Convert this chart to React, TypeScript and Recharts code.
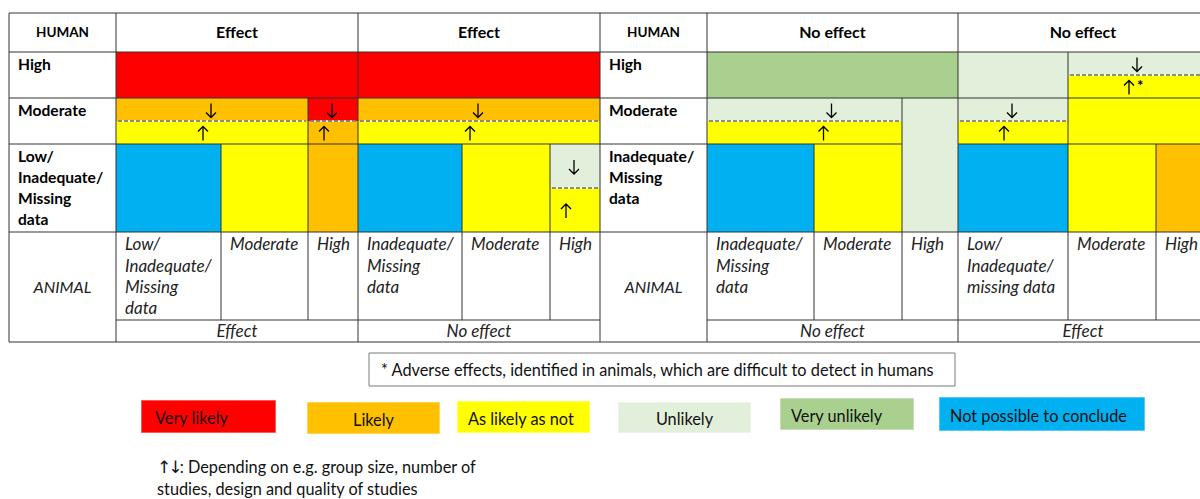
import React from 'react';
import { ComposedChart, XAxis, YAxis, ReferenceArea, ReferenceLine, Scatter } from 'recharts';

// ================= DATA =================
const categories = ['Very likely', 'Likely', 'As likely as not', 'Unlikely', 'Very unlikely', 'Not possible to conclude'];
const humanAxisTitle = 'HUMAN';
const animalAxisTitle = 'ANIMAL';
const humanConclusions = ['Effect', 'Effect', 'No effect', 'No effect'];
const animalConclusions = ['Effect', 'No effect', 'No effect', 'Effect'];
const humanRowLabels = [
  [['High'], ['Moderate'], ['Low/', 'Inadequate/', 'Missing', 'data']],
  [['High'], ['Moderate'], ['Inadequate/', 'Missing', 'data']],
];
const animalColumnLabels = [
  [['Low/', 'Inadequate/', 'Missing', 'data'], ['Moderate'], ['High']],
  [['Inadequate/', 'Missing', 'data'], ['Moderate'], ['High']],
  [['Inadequate/', 'Missing', 'data'], ['Moderate'], ['High']],
  [['Low/', 'Inadequate/', 'missing data'], ['Moderate'], ['High']],
];
// cell: [block, colFrom, colTo, halfRowFrom, halfRowTo, categoryIndex]
const cells: number[][] = [
  [0, 0, 3, 0, 2, 0],
  [0, 0, 2, 2, 3, 1], [0, 0, 2, 3, 4, 2], [0, 2, 3, 2, 3, 0], [0, 2, 3, 3, 4, 1],
  [0, 0, 1, 4, 6, 5], [0, 1, 2, 4, 6, 2], [0, 2, 3, 4, 6, 1],
  [1, 0, 3, 0, 2, 0],
  [1, 0, 3, 2, 3, 1], [1, 0, 3, 3, 4, 2],
  [1, 0, 1, 4, 6, 5], [1, 1, 2, 4, 6, 2], [1, 2, 3, 4, 5, 3], [1, 2, 3, 5, 6, 2],
  [2, 0, 3, 0, 2, 4],
  [2, 0, 2, 2, 3, 3], [2, 0, 2, 3, 4, 2], [2, 2, 3, 2, 6, 3],
  [2, 0, 1, 4, 6, 5], [2, 1, 2, 4, 6, 2],
  [3, 0, 1, 0, 2, 3], [3, 1, 3, 0, 1, 3], [3, 1, 3, 1, 2, 2],
  [3, 0, 1, 2, 3, 3], [3, 0, 1, 3, 4, 2], [3, 1, 3, 2, 4, 2],
  [3, 0, 1, 4, 6, 5], [3, 1, 2, 4, 6, 2], [3, 2, 3, 4, 6, 1],
];
// uncertain split (↓ above, ↑ below dashed line): [block, colFrom, colTo, splitHalfRow, arrowColFrom, arrowColTo, asterisk]
const uncertainSplits: number[][] = [
  [0, 0, 2, 3, 0, 2, 0],
  [0, 2, 3, 3, 2, 3, 0],
  [1, 0, 3, 3, 0, 3, 0],
  [1, 2, 3, 5, 2, 3, 0],
  [2, 0, 2, 3, 0, 3, 0],
  [3, 1, 3, 1, 1, 3, 1],
  [3, 0, 1, 3, 0, 1, 0],
];
const footnote = '* Adverse effects, identified in animals, which are difficult to detect in humans';
const arrowNote = ['\u2191\u2193: Depending on e.g. group size, number of', 'studies, design and quality of studies'];

// ================= LAYOUT (axis units) =================
const W = 1200;
const H = 499;
const TABLE_LEFT = 9;
const TABLE_RIGHT = 1208;
const PANEL_LABEL_COLS = [[9, 116], [600, 707]];
const BLOCK_COL_EDGES = [
  [116, 221, 308, 358],
  [358, 462, 550, 600],
  [707, 814, 902, 958],
  [958, 1068, 1156, 1208],
];
const HALF_ROW_EDGES = [52, 75, 98, 121, 144, 188, 232];
const HEADER_ROW = [13, 52];
const ANIMAL_ROW = [232, 320];
const CONCL_ROW = [320, 342];
const SUBCOL_LINE_FROM = [[4, 2], [4, 4], [4, 2], [0, 4]];
const LEGEND_BOXES = [
  [141, 276, 400, 433],
  [307, 440, 402, 434],
  [457, 590, 401, 433],
  [618, 751, 402, 433],
  [780, 914, 398, 430],
  [939, 1145, 397, 431],
];
const LEGEND_ALIGN = ['left', 'center', 'left', 'center', 'left', 'left'];
const FOOTNOTE_BOX = [369, 955, 353, 386];
const NOTE_BOX = [150, 700, 456, 499];

// ================= STYLE =================
const FONT = 'Lato, Carlito, "Open Sans", sans-serif';
const ARROW_FONT = '"DejaVu Sans", sans-serif';
const CATEGORY_COLORS = ['#FF0000', '#FFC000', '#FFFF00', '#E2EFDA', '#A9D08E', '#00B0F0'];
const GRID = '#333333';
const BODY_SIZE = 16.3;
const ITALIC_SIZE = 17;
const BOLD_SIZE = 15.6;

type TOpts = {
  align?: 'left' | 'center';
  bold?: boolean;
  italic?: boolean;
  size?: number;
  padX?: number;
  top?: number;
  lineH?: number;
  color?: string;
  dy?: number;
};

const renderLine = (l: string, size: number) => {
  const parts = l.split(/([\u2191\u2193]+)/);
  return parts.map((s, i) =>
    /[\u2191\u2193]/.test(s) ? (
      <tspan key={i} fontFamily={ARROW_FONT} fontSize={size * 1.05} letterSpacing={-3}>{s}</tspan>
    ) : (
      <tspan key={i}>{s}</tspan>
    )
  );
};

const textContent = (lines: string[], o: TOpts) => (props: any) => {
  const vb = props.viewBox || {};
  const { x = 0, y = 0, width = 0, height = 0 } = vb;
  const size = o.size ?? BODY_SIZE;
  const lh = o.lineH ?? 21;
  const n = lines.length;
  const startC = (o.top !== undefined ? y + o.top : y + height / 2 - ((n - 1) * lh) / 2) + (o.dy ?? 0);
  const tx = o.align === 'left' ? x + (o.padX ?? 8) : x + width / 2;
  return (
    <text
      textAnchor={o.align === 'left' ? 'start' : 'middle'}
      fontFamily={FONT}
      fontSize={size}
      fontWeight={o.bold ? 700 : 400}
      fontStyle={o.italic ? 'italic' : 'normal'}
      fill={o.color ?? '#000'}
    >
      {lines.map((l, i) => (
        <tspan key={i} x={tx} y={startC + i * lh + size * 0.35}>
          {renderLine(l, size)}
        </tspan>
      ))}
    </text>
  );
};

const ArrowShape = (p: any) => {
  const { cx, cy, payload } = p;
  if (cx == null || cy == null) return <g />;
  const down = payload.glyph === 'down';
  const x = cx + (down ? -1 : -9);
  const y = cy + 1;
  const d = down
    ? `M${x},${y - 7} L${x},${y + 7} M${x - 5},${y + 2} L${x},${y + 7} L${x + 5},${y + 2}`
    : `M${x},${y + 7} L${x},${y - 7} M${x - 5},${y - 2} L${x},${y - 7} L${x + 5},${y - 2}`;
  return (
    <g>
      <path d={d} stroke="#000" strokeWidth={1.3} fill="none" />
      {payload.star ? (
        <text x={x + 8} y={y + 3} fontFamily={FONT} fontWeight={700} fontSize={15} fill="#000">*</text>
      ) : null}
    </g>
  );
};

export default function App() {
  const areas: React.ReactNode[] = [];
  const lines: React.ReactNode[] = [];
  const texts: React.ReactNode[] = [];
  let k = 0;

  // colored cells
  cells.forEach((c) => {
    const [b, c0, c1, r0, r1, cat] = c;
    const e = BLOCK_COL_EDGES[b];
    areas.push(
      <ReferenceArea key={`c${k++}`} x1={e[c0]} x2={e[c1]} y1={HALF_ROW_EDGES[r0]} y2={HALF_ROW_EDGES[r1]}
        fill={CATEGORY_COLORS[cat]} fillOpacity={1} stroke="none" ifOverflow="visible" />
    );
  });

  // grid lines
  const hSegs: number[][] = [
    [HEADER_ROW[0], TABLE_LEFT, TABLE_RIGHT],
    [HEADER_ROW[1], TABLE_LEFT, TABLE_RIGHT],
    [HALF_ROW_EDGES[2], TABLE_LEFT, TABLE_RIGHT],
    [HALF_ROW_EDGES[4], TABLE_LEFT, BLOCK_COL_EDGES[2][2]],
    [HALF_ROW_EDGES[4], BLOCK_COL_EDGES[2][3], TABLE_RIGHT],
    [ANIMAL_ROW[0], TABLE_LEFT, TABLE_RIGHT],
    [CONCL_ROW[0], PANEL_LABEL_COLS[0][1], PANEL_LABEL_COLS[1][0]],
    [CONCL_ROW[0], PANEL_LABEL_COLS[1][1], TABLE_RIGHT],
    [CONCL_ROW[1], TABLE_LEFT, TABLE_RIGHT],
  ];
  hSegs.forEach(([y, x1, x2]) => {
    lines.push(
      <ReferenceLine key={`h${k++}`} segment={[{ x: x1, y }, { x: x2, y }]} stroke={GRID} strokeWidth={1} ifOverflow="visible" />
    );
  });
  const vXs = [TABLE_LEFT, PANEL_LABEL_COLS[0][1], BLOCK_COL_EDGES[0][3], PANEL_LABEL_COLS[1][0], PANEL_LABEL_COLS[1][1], BLOCK_COL_EDGES[2][3]];
  vXs.forEach((x) => {
    lines.push(
      <ReferenceLine key={`v${k++}`} segment={[{ x, y: HEADER_ROW[0] }, { x, y: CONCL_ROW[1] }]} stroke={GRID} strokeWidth={1} ifOverflow="visible" />
    );
  });
  BLOCK_COL_EDGES.forEach((e, b) => {
    [1, 2].forEach((ci) => {
      const x = e[ci];
      lines.push(
        <ReferenceLine key={`s${k++}`} segment={[{ x, y: HALF_ROW_EDGES[SUBCOL_LINE_FROM[b][ci - 1]] }, { x, y: ANIMAL_ROW[1] }]}
          stroke={GRID} strokeWidth={1} ifOverflow="visible" />
      );
    });
  });

  // dashed split lines + arrows
  const arrowPoints: any[] = [];
  uncertainSplits.forEach(([b, c0, c1, r, a0, a1, star]) => {
    const e = BLOCK_COL_EDGES[b];
    const y = HALF_ROW_EDGES[r];
    lines.push(
      <ReferenceLine key={`dw${k++}`} segment={[{ x: e[c0] + 2, y }, { x: e[c1] - 2, y }]} stroke="#ffffff" strokeWidth={1.5} ifOverflow="visible" />
    );
    lines.push(
      <ReferenceLine key={`d${k++}`} segment={[{ x: e[c0] + 2, y }, { x: e[c1] - 2, y }]} stroke="#222" strokeWidth={1.2} strokeDasharray="4 2" ifOverflow="visible" />
    );
    const ax = (e[a0] + e[a1]) / 2;
    arrowPoints.push({ x: ax, y: (HALF_ROW_EDGES[r - 1] + y) / 2, glyph: 'down', star: 0 });
    arrowPoints.push({ x: ax, y: (HALF_ROW_EDGES[r + 1] + y) / 2, glyph: 'up', star });
  });

  // header texts
  PANEL_LABEL_COLS.forEach(([x1, x2], p) => {
    texts.push(
      <ReferenceArea key={`t${k++}`} x1={x1} x2={x2} y1={HEADER_ROW[0]} y2={HEADER_ROW[1]} fill="none" stroke="none" ifOverflow="visible"
        label={textContent([humanAxisTitle], { bold: true, size: 13.5 })} />
    );
    const rowSpans = [[0, 2], [2, 4], [4, 6]];
    rowSpans.forEach(([r0, r1], ri) => {
      texts.push(
        <ReferenceArea key={`t${k++}`} x1={x1} x2={x2} y1={HALF_ROW_EDGES[r0]} y2={HALF_ROW_EDGES[r1]} fill="none" stroke="none" ifOverflow="visible"
          label={textContent(humanRowLabels[p][ri], { bold: true, size: BOLD_SIZE, align: 'left', padX: 9, top: 13, lineH: 21 })} />
      );
    });
    texts.push(
      <ReferenceArea key={`t${k++}`} x1={x1} x2={x2} y1={ANIMAL_ROW[0]} y2={CONCL_ROW[1]} fill="none" stroke="none" ifOverflow="visible"
        label={textContent([animalAxisTitle], { italic: true, size: 16.2, color: '#222' })} />
    );
  });
  BLOCK_COL_EDGES.forEach((e, b) => {
    texts.push(
      <ReferenceArea key={`t${k++}`} x1={e[0]} x2={e[3]} y1={HEADER_ROW[0]} y2={HEADER_ROW[1]} fill="none" stroke="none" ifOverflow="visible"
        label={textContent([humanConclusions[b]], { bold: true, size: 16 })} />
    );
    texts.push(
      <ReferenceArea key={`t${k++}`} x1={e[0]} x2={e[3]} y1={CONCL_ROW[0]} y2={CONCL_ROW[1]} fill="none" stroke="none" ifOverflow="visible"
        label={textContent([animalConclusions[b]], { italic: true, size: ITALIC_SIZE, color: '#222' })} />
    );
    [0, 1, 2].forEach((ci) => {
      texts.push(
        <ReferenceArea key={`t${k++}`} x1={e[ci]} x2={e[ci + 1]} y1={ANIMAL_ROW[0]} y2={ANIMAL_ROW[1]} fill="none" stroke="none" ifOverflow="visible"
          label={textContent(animalColumnLabels[b][ci], { italic: true, size: ITALIC_SIZE, align: 'left', padX: 9, top: 12.5, lineH: 21.3, color: '#222' })} />
      );
    });
  });

  // footnote box
  texts.push(
    <ReferenceArea key={`f${k++}`} x1={FOOTNOTE_BOX[0]} x2={FOOTNOTE_BOX[1]} y1={FOOTNOTE_BOX[2]} y2={FOOTNOTE_BOX[3]}
      fill="#ffffff" fillOpacity={1} stroke="#7a7a7a" strokeWidth={1} ifOverflow="visible"
      label={textContent([footnote], { align: 'left', padX: 12, size: BODY_SIZE, color: '#111', dy: 1 })} />
  );
  // legend
  categories.forEach((cat, i) => {
    const [x1, x2, y1, y2] = LEGEND_BOXES[i];
    texts.push(
      <ReferenceArea key={`l${k++}`} x1={x1} x2={x2} y1={y1} y2={y2}
        fill={CATEGORY_COLORS[i]} fillOpacity={1} stroke="rgba(255,255,255,0.45)" strokeWidth={1.5} ifOverflow="visible"
        label={textContent([cat], { align: LEGEND_ALIGN[i] as any, padX: i === 0 ? 14 : 11, size: BODY_SIZE, color: '#111', dy: 2 })} />
    );
  });
  // arrow note
  texts.push(
    <ReferenceArea key={`n${k++}`} x1={NOTE_BOX[0]} x2={NOTE_BOX[1]} y1={NOTE_BOX[2]} y2={NOTE_BOX[3]} fill="none" stroke="none" ifOverflow="visible"
      label={textContent(arrowNote, { align: 'left', padX: 7, top: 11, lineH: 22.5, size: BODY_SIZE, color: '#111' })} />
  );

  return (
    <div style={{ position: 'absolute', left: 0, top: 0, width: W, height: H, background: '#fff' }}>
      <ComposedChart width={W} height={H} data={arrowPoints} margin={{ top: 0, right: 0, bottom: 0, left: 0 }}>
        <XAxis type="number" dataKey="x" domain={[0, W]} hide allowDataOverflow />
        <YAxis type="number" dataKey="y" domain={[0, H]} reversed hide allowDataOverflow />
        {areas}
        {lines}
        {texts}
        <Scatter data={arrowPoints} dataKey="y" shape={ArrowShape} isAnimationActive={false} />
      </ComposedChart>
    </div>
  );
}
